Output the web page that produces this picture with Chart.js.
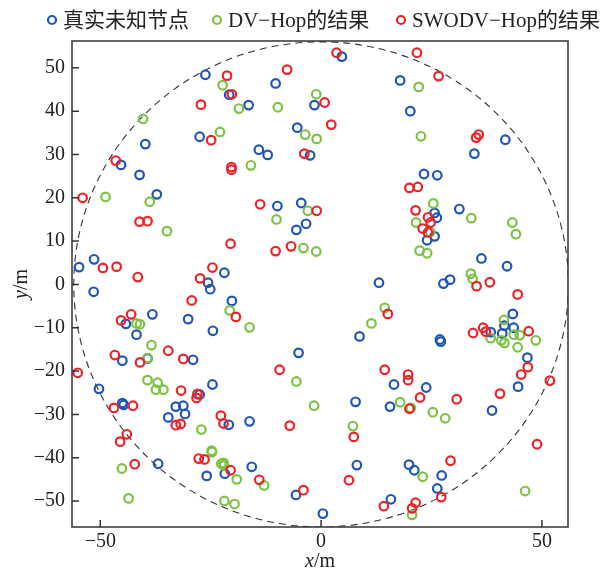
<!DOCTYPE html>
<html>
<head>
<meta charset="utf-8">
<script src="https://cdn.jsdelivr.net/npm/chart.js@4"></script>
<style>
  html, body { margin: 0; padding: 0; background: #fff; }
  #wrap { width: 602px; height: 573px; }
</style>
</head>
<body>
<div id="wrap"><canvas id="ctx"></canvas></div>
<script>
// point data, [x, y] in metres
const trueNodes = [
  [-26.2, 48.4], [-20.8, 43.8], [-16.4, 41.4], [-10.3, 46.4], [-1.5, 41.4], [-27.5, 34.1],
  [-14.1, 31.1], [-12.1, 29.9], [-2.5, 29.8], [-5.4, 36.2], [-39.8, 32.4], [-45.3, 27.6],
  [-41.1, 25.3], [-37.2, 20.8], [-9.9, 18.1], [-4.5, 18.8], [-3.4, 14.0], [-5.6, 12.6],
  [-51.4, 5.8], [-54.8, 4.0], [-21.9, 2.7], [-25.6, 0.4], [-25.1, -1.1], [-51.5, -1.7],
  [-20.2, -3.8], [-38.2, -6.9], [-30.1, -8.0], [-44.2, -9.1], [-41.8, -11.6], [-24.5, -10.7],
  [-45.0, -17.6], [-39.3, -17.1], [-29.0, -17.4], [-5.1, -15.8], [-50.3, -24.1], [-24.6, -23.1],
  [-27.5, -25.4], [-45.0, -27.4], [-44.7, -27.8], [-32.9, -28.2], [-31.2, -28.0], [-30.8, -29.9],
  [-34.6, -30.7], [-20.9, -32.4], [-16.2, -31.6], [-36.9, -41.4], [-25.9, -44.2], [-21.8, -43.7],
  [-15.7, -42.1], [-5.7, -48.6], [0.4, -52.9], [4.7, 52.6], [17.9, 47.1], [20.2, 40.0],
  [41.7, 33.4], [34.7, 30.2], [23.3, 25.5], [26.3, 25.2], [31.3, 17.4], [25.7, 16.5],
  [26.2, 15.4], [25.7, 11.1], [24.0, 10.2], [36.3, 6.0], [42.1, 4.2], [13.1, 0.4],
  [27.7, 0.2], [29.2, 1.1], [43.4, -6.8], [41.5, -9.5], [43.6, -10.0], [38.4, -11.0],
  [41.0, -11.3], [26.9, -12.7], [27.1, -13.2], [8.7, -12.0], [46.7, -16.9], [44.6, -23.6],
  [16.5, -23.1], [23.8, -23.8], [7.8, -27.1], [15.6, -28.2], [38.7, -29.1], [8.1, -41.7],
  [19.9, -41.6], [21.1, -42.9], [27.3, -44.1], [26.3, -47.1], [15.8, -49.6]
];
const dvhopNodes = [
  [-22.3, 46.0], [-18.6, 40.6], [-9.8, 40.9], [-1.1, 43.9], [-3.6, 34.6], [-1.0, 33.6],
  [-22.9, 35.2], [-15.9, 27.5], [-40.3, 38.2], [-48.8, 20.2], [-38.8, 19.1], [-34.9, 12.3],
  [-3.0, 17.0], [-10.1, 15.0], [-4.0, 8.4], [-1.1, 7.6], [22.1, 45.6], [22.6, 34.2],
  [25.4, 18.7], [21.5, 14.3], [24.7, 12.1], [34.0, 15.3], [43.3, 14.3], [44.1, 11.6],
  [22.3, 7.8], [24.0, 7.2], [33.9, 2.5], [34.3, 1.3], [-20.7, -6.0], [-16.2, -9.9],
  [-41.8, -9.0], [-41.0, -9.2], [-38.4, -14.0], [-39.3, -17.0], [-39.3, -22.1], [-37.0, -22.7],
  [-37.4, -24.3], [-35.7, -24.3], [-5.6, -22.4], [-1.6, -28.0], [-27.1, -33.5], [-24.8, -38.4],
  [-24.7, -38.7], [-22.6, -41.4], [-22.1, -41.2], [-22.0, -41.8], [-19.1, -45.0], [-12.9, -46.4],
  [-45.1, -42.5], [-43.6, -49.4], [-21.9, -50.0], [-19.6, -50.7], [41.4, -8.2], [38.4, -12.4],
  [40.8, -12.9], [41.5, -13.5], [43.6, -11.6], [45.0, -11.7], [44.5, -14.5], [48.6, -12.9],
  [14.4, -5.4], [11.4, -9.0], [17.9, -27.2], [20.3, -28.5], [25.3, -29.5], [28.1, -30.9],
  [7.2, -32.7], [23.0, -44.4], [46.2, -47.7], [20.6, -53.2]
];
const swodvhopNodes = [
  [-21.3, 48.2], [-20.2, 43.9], [-7.7, 49.6], [-27.2, 41.5], [-24.9, 33.3], [-3.8, 30.2],
  [-20.3, 27.1], [-20.3, 26.5], [-46.5, 28.6], [-54.0, 20.0], [-41.1, 14.5], [-39.3, 14.6],
  [-13.8, 18.5], [-1.0, 17.0], [-20.5, 9.4], [-10.3, 7.7], [-6.8, 8.8], [-49.4, 3.8],
  [-46.3, 4.1], [-41.5, 1.7], [-24.6, 3.9], [-27.4, 1.4], [3.5, 53.5], [21.7, 53.5],
  [26.6, 48.1], [0.8, 42.0], [2.3, 36.9], [35.1, 33.9], [35.7, 34.6], [20.0, 22.3],
  [21.9, 22.5], [21.4, 17.1], [24.2, 15.5], [24.8, 14.3], [23.0, 12.9], [24.2, 12.0],
  [38.2, 0.5], [35.2, -0.4], [-29.3, -3.7], [-45.3, -8.3], [-43.0, -6.9], [-19.3, -7.5],
  [-34.6, -15.3], [-31.2, -17.2], [-46.7, -16.3], [-41.0, -18.0], [-55.1, -20.4], [-31.7, -24.5],
  [-28.0, -25.3], [-28.2, -26.2], [-46.9, -28.5], [-42.6, -28.0], [-32.9, -32.5], [-31.8, -32.2],
  [-22.7, -30.3], [-22.1, -32.1], [-9.4, -19.7], [-7.1, -32.6], [-44.0, -34.6], [-45.5, -36.3],
  [-42.2, -41.5], [-27.7, -40.2], [-26.4, -40.4], [-20.5, -42.9], [-14.0, -45.1], [-4.0, -47.5],
  [44.5, -2.3], [15.1, -6.8], [34.4, -11.2], [36.7, -10.0], [37.3, -10.9], [47.0, -10.8],
  [14.4, -19.7], [19.7, -20.8], [19.7, -22.1], [22.4, -26.1], [30.7, -26.5], [40.5, -25.2],
  [45.3, -20.8], [46.8, -19.1], [51.8, -22.2], [20.0, -28.7], [7.4, -35.2], [29.3, -40.7],
  [6.3, -45.2], [48.9, -36.9], [27.2, -49.1], [14.2, -51.2], [21.4, -50.4], [20.6, -51.7]
];
const seriesLabels = ['真实未知节点', 'DV\u2212Hop的结果', 'SWODV\u2212Hop的结果'];
const xTicks = [-50, 0, 50];
const yTicks = [-50, -40, -30, -20, -10, 0, 10, 20, 30, 40, 50];
const areaRadius = 56; // dashed boundary of the deployment area

const colors = ['#1f56b3', '#7cc243', '#ec2227'];
const serif = '"Liberation Serif", "Noto Sans CJK SC", serif';

function toXY(list) {
    return list.map(function (p) { return { x: p[0], y: p[1] }; });
}
function fmt(v) {
    return v < 0 ? '\u2212' + Math.abs(v) : String(v);
}

// inside ticks, frame, dashed circle, axis titles and legend
const decor = {
    id: 'decor',
    beforeDatasetsDraw: function (chart) {
        const c = chart.ctx, a = chart.chartArea;
        const xs = chart.scales.x, ys = chart.scales.y;
        const cx = xs.getPixelForValue(0), cy = ys.getPixelForValue(0);
        const rx = xs.getPixelForValue(areaRadius) - cx;
        const ry = cy - ys.getPixelForValue(areaRadius);
        c.save();
        c.beginPath();
        c.rect(a.left, a.top, a.right - a.left, a.bottom - a.top);
        c.clip();
        c.setLineDash([7, 5]);
        c.strokeStyle = '#333';
        c.lineWidth = 1.1;
        c.beginPath();
        c.ellipse(cx, cy, rx, ry, 0, 0, Math.PI * 2);
        c.stroke();
        c.restore();
    },
    afterDraw: function (chart) {
        const c = chart.ctx, a = chart.chartArea;
        const xs = chart.scales.x, ys = chart.scales.y;
        c.save();
        c.strokeStyle = '#333';
        c.lineWidth = 1.5;
        c.strokeRect(a.left, a.top, a.right - a.left, a.bottom - a.top);
        c.beginPath();
        xTicks.forEach(function (v) {
            const px = xs.getPixelForValue(v);
            c.moveTo(px, a.bottom);
            c.lineTo(px, a.bottom - 7);
        });
        yTicks.forEach(function (v) {
            const py = ys.getPixelForValue(v);
            c.moveTo(a.left, py);
            c.lineTo(a.left + 7, py);
        });
        c.stroke();

        // axis titles: italic variable, upright unit
        c.fillStyle = '#222';
        c.textBaseline = 'middle';
        c.font = 'italic 20px ' + serif;
        const wx = c.measureText('x').width;
        c.font = '20px ' + serif;
        const wu = c.measureText('/m').width;
        const midX = (a.left + a.right) / 2;
        let sx = midX - (wx + wu) / 2;
        c.textAlign = 'left';
        c.font = 'italic 20px ' + serif;
        c.fillText('x', sx, 562);
        c.font = '20px ' + serif;
        c.fillText('/m', sx + wx, 562);

        c.save();
        c.translate(22, (a.top + a.bottom) / 2);
        c.rotate(-Math.PI / 2);
        c.font = 'italic 20px ' + serif;
        const wy = c.measureText('y').width;
        sx = -(wy + wu) / 2;
        c.fillText('y', sx, 0);
        c.font = '20px ' + serif;
        c.fillText('/m', sx + wy, 0);
        c.restore();

        // legend
        const markX = [52, 217, 401];
        c.font = '21px ' + serif;
        c.lineWidth = 2.2;
        seriesLabels.forEach(function (t, i) {
            c.strokeStyle = colors[i];
            c.beginPath();
            c.arc(markX[i], 20, 4, 0, Math.PI * 2);
            c.stroke();
            c.fillStyle = '#222';
            c.fillText(t, markX[i] + 11, 21);
        });
        c.restore();
    }
};

function pointSet(label, list, i) {
    return {
        label: label,
        data: toXY(list),
        borderColor: colors[i],
        backgroundColor: 'rgba(0,0,0,0)',
        pointRadius: 4.3,
        pointHoverRadius: 4.3,
        borderWidth: 2.2,
        order: 3 - i
    };
}

const chart = new Chart(document.getElementById('ctx'), {
    type: 'scatter',
    data: {
        datasets: [
            pointSet(seriesLabels[0], trueNodes, 0),
            pointSet(seriesLabels[1], dvhopNodes, 1),
            pointSet(seriesLabels[2], swodvhopNodes, 2)
        ]
    },
    options: {
        responsive: true,
        maintainAspectRatio: false,
        animation: false,
        layout: { padding: { top: 41, right: 34, bottom: 0, left: 0 } },
        plugins: {
            legend: { display: false },
            tooltip: { enabled: false }
        },
        scales: {
            x: {
                type: 'linear',
                min: -56.4,
                max: 55.9,
                afterFit: function (s) { s.height = 46; },
                afterBuildTicks: function (s) { s.ticks = xTicks.map(function (v) { return { value: v }; }); },
                grid: { display: false, drawTicks: false },
                border: { display: false },
                ticks: {
                    padding: 3,
                    maxRotation: 0,
                    color: '#222',
                    font: { family: serif, size: 20 },
                    callback: function (v) { return fmt(v); }
                }
            },
            y: {
                type: 'linear',
                min: -56,
                max: 56.2,
                afterFit: function (s) { s.width = 72; },
                afterBuildTicks: function (s) { s.ticks = yTicks.map(function (v) { return { value: v }; }); },
                grid: { display: false, drawTicks: false },
                border: { display: false },
                ticks: {
                    padding: 7,
                    color: '#222',
                    font: { family: serif, size: 20 },
                    callback: function (v) { return fmt(v); }
                }
            }
        }
    },
    plugins: [decor]
});
</script>
</body>
</html>
